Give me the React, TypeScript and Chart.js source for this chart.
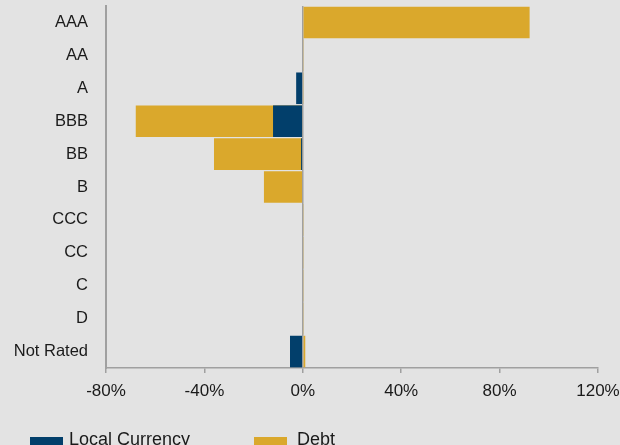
import React, { useEffect, useRef } from "react";
import { Chart, registerables } from "chart.js";

Chart.register(...registerables);

const categories = ["AAA", "AA", "A", "BBB", "BB", "B", "CCC", "CC", "C", "D", "Not Rated"];
const localCurrency = [0, 0, -2.7, -12.1, -0.7, 0, 0, 0, 0, 0, -5.2];
const debt = [92.2, 0.4, 0.4, -67.9, -36.1, -15.8, 0.4, 0.4, 0.4, 0.4, 1.0];
const xTicks = [-80, -40, 0, 40, 80, 120];

const NAVY = "#023f6b";
const GOLD = "#daa82c";
const BG = "#e3e3e3";
const AXIS = "#a0a0a0";
const FONT = "'Liberation Sans', Arial, Helvetica, sans-serif";

export default function App() {
  const ref = useRef<HTMLCanvasElement | null>(null);

  useEffect(() => {
    document.body.style.margin = "0";
    const canvas = ref.current;
    if (!canvas) return;
    const chart = new Chart(canvas, {
      type: "bar",
      data: {
        labels: categories,
        datasets: [
          {
            label: "Local Currency",
            data: localCurrency,
            backgroundColor: NAVY,
            borderWidth: 0,
            barPercentage: 0.96,
            categoryPercentage: 1,
            grouped: false,
          } as any,
          {
            label: "Debt",
            data: debt,
            backgroundColor: GOLD,
            borderWidth: 0,
            barPercentage: 0.96,
            categoryPercentage: 1,
            grouped: false,
          } as any,
        ],
      },
      options: {
        indexAxis: "y",
        animation: false,
        responsive: false,
        maintainAspectRatio: false,
        layout: { padding: { left: 0, right: 22, top: 6, bottom: 48 } },
        plugins: {
          legend: { display: false },
          tooltip: { enabled: false },
        },
        scales: {
          x: {
            min: xTicks[0],
            max: xTicks[xTicks.length - 1],
            afterBuildTicks: (scale: any) => {
              scale.ticks = xTicks.map((v) => ({ value: v }));
            },
            afterFit: (scale: any) => {
              scale.height = 29;
              scale.paddingLeft = 0;
              scale.paddingRight = 0;
            },
            ticks: {
              color: "#1a1a1a",
              font: { family: FONT, size: 17 },
              padding: 8,
              maxRotation: 0,
              callback: (v: any) => `${v}%`,
            },
            grid: {
              drawOnChartArea: true,
              color: (ctx: any) => (ctx.tick && ctx.tick.value === 0 ? AXIS : "rgba(0,0,0,0)"),
              tickColor: AXIS,
              tickLength: 5,
              lineWidth: 1.5,
              tickWidth: 1.5,
            },
            border: { display: true, color: AXIS, width: 1.5 },
          },
          y: {
            afterFit: (scale: any) => {
              scale.width = 106;
              scale.paddingTop = 0;
              scale.paddingBottom = 0;
            },
            ticks: {
              color: "#1a1a1a",
              font: { family: FONT, size: 16.5 },
              padding: 18,
            },
            grid: { display: false, drawTicks: false },
            border: { display: true, color: AXIS, width: 2 },
          },
        },
      },
    });
    return () => chart.destroy();
  }, []);

  const legendText: React.CSSProperties = {
    position: "absolute",
    top: 430,
    fontFamily: FONT,
    fontSize: 18,
    lineHeight: "18px",
    color: "#1a1a1a",
    whiteSpace: "nowrap",
  };

  return (
    <div style={{ position: "relative", width: 620, height: 445, background: BG, overflow: "hidden" }}>
      <canvas ref={ref} width={620} height={445} style={{ display: "block", width: 620, height: 445 }} />
      <div style={{ position: "absolute", left: 30, top: 437, width: 33, height: 12, background: NAVY }} />
      <div style={{ ...legendText, left: 69 }}>Local Currency</div>
      <div style={{ position: "absolute", left: 254, top: 437, width: 33, height: 12, background: GOLD }} />
      <div style={{ ...legendText, left: 297 }}>Debt</div>
    </div>
  );
}
